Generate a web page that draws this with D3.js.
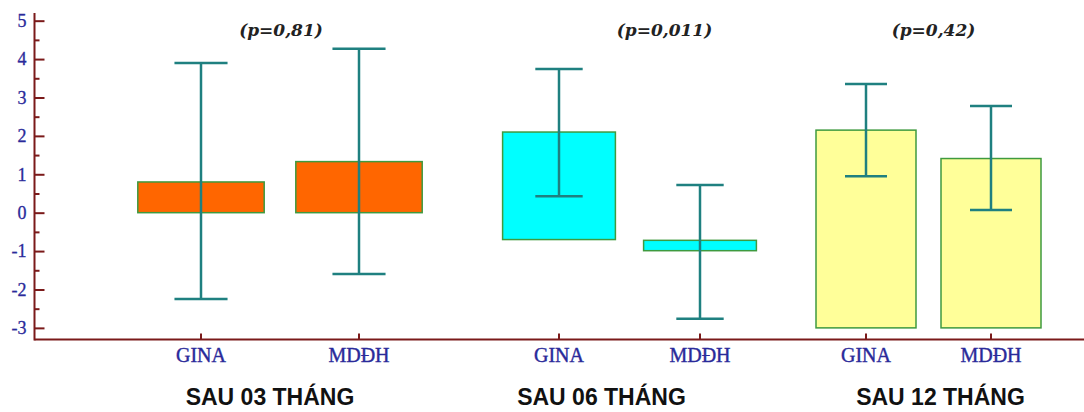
<!DOCTYPE html>
<html>
<head>
<meta charset="utf-8">
<script src="https://cdn.jsdelivr.net/npm/d3@7"></script>
<style>
  body { margin: 0; background: #fff; }
  svg { display: block; }
</style>
</head>
<body>
<svg id="chart" width="1084" height="412"></svg>
<script>
// groups and categories
const groups = ["SAU 03 THÁNG", "SAU 06 THÁNG", "SAU 12 THÁNG"];
const categories = ["GINA", "MDĐH"];
const pValues = ["(p=0,81)", "(p=0,011)", "(p=0,42)"];

// bar bottom / top per group, [GINA, MDĐH]
const barLow = [[0, 0], [-0.7, -0.99], [-3, -3]];
const barHigh = [[0.8, 1.33], [2.1, -0.72], [2.15, 1.41]];

// error bar ends
const errHigh = [[3.9, 4.27], [3.74, 0.72], [3.35, 2.78]];
const errLow = [[-2.25, -1.6], [0.43, -2.76], [0.95, 0.07]];

const groupColors = ["#ff6600", "#00ffff", "#ffff99"];
const yTicks = [-3, -2, -1, 0, 1, 2, 3, 4, 5];

const width = 1084, height = 412;
const axisX = 34.5, axisY = 339.4;

// each group sits in its own x range
const groupRanges = [[122, 438], [488.5, 770.5], [803.5, 1053.5]];
const pOffset = [1, 35, 5];
const labelOffset = [-10, -28, 12];

const svg = d3.select("#chart");

const y = d3.scaleLinear().domain([-3.3, 5.2]).range([axisY, 13]);

const axisColor = "#7b1a1a";
const errColor = "#1f8080";
const blue = "#2a2a9a";

groups.forEach((g, gi) => {
  const x = d3.scalePoint().domain(categories).range(groupRanges[gi]).padding(0.5);
  const bw = x.step() * 0.8;
  const cap = bw * 0.42;

  const rows = categories.map((c, i) => ({
    c,
    lo: barLow[gi][i],
    hi: barHigh[gi][i],
    eHi: errHigh[gi][i],
    eLo: errLow[gi][i]
  }));

  const grp = svg.append("g");

  grp.selectAll("rect")
    .data(rows)
    .enter()
    .append("rect")
    .attr("x", (d) => x(d.c) - bw / 2)
    .attr("y", (d) => y(Math.max(d.lo, d.hi)))
    .attr("width", bw)
    .attr("height", (d) => Math.abs(y(d.lo) - y(d.hi)))
    .attr("fill", groupColors[gi])
    .attr("stroke", "#3f9a3f")
    .attr("stroke-width", 1.5);

  const err = grp.selectAll("g.err").data(rows).enter().append("g")
    .attr("stroke", errColor)
    .attr("stroke-width", 2.5);
  err.append("line")
    .attr("x1", (d) => x(d.c)).attr("x2", (d) => x(d.c))
    .attr("y1", (d) => y(d.eHi)).attr("y2", (d) => y(d.eLo));
  err.append("line")
    .attr("x1", (d) => x(d.c) - cap / 2).attr("x2", (d) => x(d.c) + cap / 2)
    .attr("y1", (d) => y(d.eHi)).attr("y2", (d) => y(d.eHi));
  err.append("line")
    .attr("x1", (d) => x(d.c) - cap / 2).attr("x2", (d) => x(d.c) + cap / 2)
    .attr("y1", (d) => y(d.eLo)).attr("y2", (d) => y(d.eLo));

  // category ticks and labels on the x axis
  grp.selectAll("line.xt").data(categories).enter().append("line")
    .attr("x1", (d) => x(d)).attr("x2", (d) => x(d))
    .attr("y1", axisY).attr("y2", axisY - 6)
    .attr("stroke", axisColor).attr("stroke-width", 2);

  grp.selectAll("text.cat").data(categories).enter().append("text")
    .attr("x", (d) => x(d))
    .attr("y", 362)
    .attr("text-anchor", "middle")
    .attr("font-family", "'Liberation Serif', 'Times New Roman', serif")
    .attr("font-size", 20)
    .attr("fill", blue)
    .attr("stroke", blue)
    .attr("stroke-width", 0.4)
    .text((d) => d);

  const mid = (groupRanges[gi][0] + groupRanges[gi][1]) / 2;

  svg.append("text")
    .attr("x", mid + pOffset[gi])
    .attr("y", 36)
    .attr("text-anchor", "middle")
    .attr("font-family", "'DejaVu Serif', serif")
    .attr("font-size", 17)
    .attr("font-weight", "bold")
    .attr("font-style", "italic")
    .attr("fill", "#222")
    .text(pValues[gi]);

  svg.append("text")
    .attr("x", mid + labelOffset[gi])
    .attr("y", 405)
    .attr("text-anchor", "middle")
    .attr("font-family", "'Liberation Sans', Arial, sans-serif")
    .attr("font-size", 23)
    .attr("font-weight", "bold")
    .attr("fill", "#111")
    .text(g);
});

// y axis: major ticks, minor ticks and labels
const minor = d3.range(-3, 5.01, 0.5).filter((v) => !Number.isInteger(v));

const yMajor = svg.append("g")
  .attr("transform", `translate(${axisX},0)`)
  .call(d3.axisRight(y).tickValues(yTicks).tickSize(10).tickFormat(""));
const yMinor = svg.append("g")
  .attr("transform", `translate(${axisX},0)`)
  .call(d3.axisRight(y).tickValues(minor).tickSize(5).tickFormat(""));
const yLabels = svg.append("g")
  .attr("transform", `translate(${axisX},0)`)
  .call(d3.axisLeft(y).tickValues(yTicks).tickSize(0).tickPadding(8).tickFormat((d) => String(d)));

[yMajor, yMinor, yLabels].forEach((a) => {
  a.select(".domain").remove();
  a.selectAll(".tick line").attr("stroke", axisColor).attr("stroke-width", 2);
});
yLabels.selectAll("text")
  .attr("font-family", "'Liberation Serif', 'Times New Roman', serif")
  .attr("font-size", 18)
  .attr("fill", blue)
  .attr("stroke", blue)
  .attr("stroke-width", 0.3);

svg.append("line")
  .attr("x1", axisX).attr("x2", axisX)
  .attr("y1", y(5.2)).attr("y2", axisY + 1)
  .attr("stroke", axisColor).attr("stroke-width", 2);

svg.append("line")
  .attr("x1", axisX).attr("x2", width)
  .attr("y1", axisY).attr("y2", axisY)
  .attr("stroke", axisColor).attr("stroke-width", 2);
</script>
</body>
</html>
